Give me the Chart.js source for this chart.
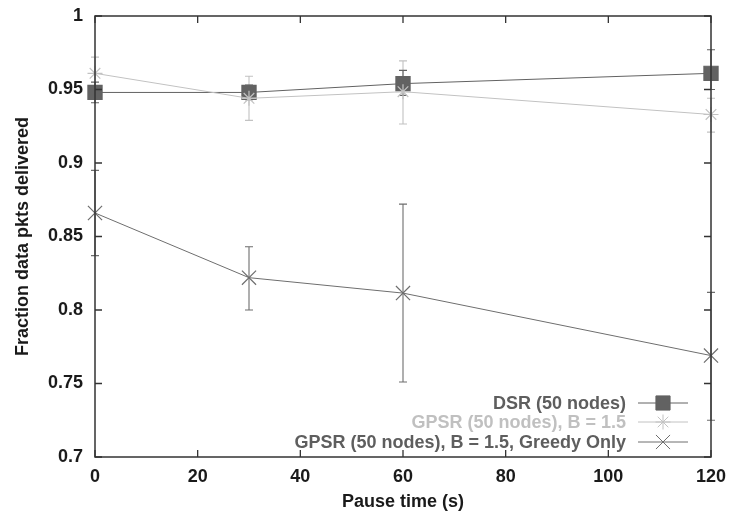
<!DOCTYPE html>
<html>
<head>
<meta charset="utf-8">
<script src="https://cdn.jsdelivr.net/npm/chart.js@4"></script>
<style>
  html, body { margin: 0; padding: 0; background: #fff; }
  #wrap { width: 729px; height: 514px; }
</style>
</head>
<body>
<div id="wrap"><canvas id="myChart" width="729" height="514"></canvas></div>
<script>
// DATA
const pauseTimes = [0, 30, 60, 120];
const seriesNames = ['DSR (50 nodes)', 'GPSR (50 nodes), B = 1.5', 'GPSR (50 nodes), B = 1.5, Greedy Only'];

const dsrMean = [0.948, 0.948, 0.954, 0.961];
const dsrLow  = [0.941, 0.943, 0.946, 0.950];
const dsrHigh = [0.955, 0.953, 0.963, 0.977];

const gpsrMean = [0.961, 0.944, 0.9485, 0.933];
const gpsrLow  = [0.950, 0.929, 0.9265, 0.921];
const gpsrHigh = [0.972, 0.959, 0.9695, 0.944];

const greedyMean = [0.866, 0.822, 0.8115, 0.769];
const greedyLow  = [0.837, 0.800, 0.751, 0.725];
const greedyHigh = [0.895, 0.843, 0.872, 0.812];

const xTicks = [0, 20, 40, 60, 80, 100, 120];
const yTicks = [0.7, 0.75, 0.8, 0.85, 0.9, 0.95, 1];

const FONT = 'Liberation Sans, Arial, Helvetica, sans-serif';

function pts(xs, ys) {
    return xs.map((x, i) => ({ x: x, y: ys[i] }));
}

const seriesStyle = [
    { color: '#626262', point: 'rect', radius: 10, low: dsrLow, high: dsrHigh },
    { color: '#c2c2c2', point: 'star', radius: 7.5, low: gpsrLow, high: gpsrHigh },
    { color: '#6e6e6e', point: 'crossRot', radius: 10, low: greedyLow, high: greedyHigh }
];
const means = [dsrMean, gpsrMean, greedyMean];

// ERROR BARS, BOX, TICKS AND LEGEND
const extras = {
    id: 'extras',
    beforeDatasetsDraw(chart) {
        const ctx = chart.ctx;
        const xs = chart.scales.x;
        const ys = chart.scales.y;
        ctx.save();
        ctx.lineWidth = 1.1;
        // light series first, dark on top
        [1, 0, 2].forEach(si => {
            const st = seriesStyle[si];
            ctx.strokeStyle = st.color;
            pauseTimes.forEach((t, i) => {
                const px = xs.getPixelForValue(t);
                const lo = ys.getPixelForValue(st.low[i]);
                const hi = ys.getPixelForValue(st.high[i]);
                ctx.beginPath();
                ctx.moveTo(px, lo); ctx.lineTo(px, hi);
                ctx.moveTo(px - 4, lo); ctx.lineTo(px + 4, lo);
                ctx.moveTo(px - 4, hi); ctx.lineTo(px + 4, hi);
                ctx.stroke();
            });
        });
        ctx.restore();
    },
    afterDraw(chart) {
        const ctx = chart.ctx;
        const a = chart.chartArea;
        const xs = chart.scales.x;
        const ys = chart.scales.y;
        ctx.save();
        ctx.strokeStyle = '#333';
        ctx.lineWidth = 1.5;
        ctx.strokeRect(a.left, a.top, a.right - a.left, a.bottom - a.top);
        ctx.lineWidth = 1.3;
        ctx.beginPath();
        xTicks.forEach(t => {
            const px = xs.getPixelForValue(t);
            ctx.moveTo(px, a.bottom); ctx.lineTo(px, a.bottom - 7);
            ctx.moveTo(px, a.top); ctx.lineTo(px, a.top + 7);
        });
        yTicks.forEach(t => {
            const py = ys.getPixelForValue(t);
            ctx.moveTo(a.left, py); ctx.lineTo(a.left + 7, py);
            ctx.moveTo(a.right, py); ctx.lineTo(a.right - 7, py);
        });
        ctx.stroke();

        // legend, bottom right inside plot
        ctx.font = 'bold 18px ' + FONT;
        ctx.textAlign = 'right';
        ctx.textBaseline = 'middle';
        const textRight = 626;
        const lineL = 638, lineR = 688, mx = 663;
        const rows = [403, 422, 442];
        seriesNames.forEach((name, i) => {
            const st = seriesStyle[i];
            const y = rows[i];
            ctx.fillStyle = i === 1 ? '#c0c0c0' : '#5e5e5e';
            ctx.fillText(name, textRight, y + 1);
            ctx.strokeStyle = st.color;
            ctx.lineWidth = 1;
            ctx.beginPath();
            ctx.moveTo(lineL, y); ctx.lineTo(lineR, y);
            ctx.stroke();
            ctx.fillStyle = st.color;
            Chart.helpers.drawPoint(ctx, {
                pointStyle: st.point, radius: st.radius, rotation: 0, borderWidth: 1.2
            }, mx, y);
        });
        ctx.restore();
    }
};

const datasets = [2, 1, 0].map(i => ({
    label: seriesNames[i],
    data: pts(pauseTimes, means[i]),
    borderColor: seriesStyle[i].color,
    backgroundColor: seriesStyle[i].color,
    borderWidth: 1,
    pointStyle: seriesStyle[i].point,
    pointRadius: seriesStyle[i].radius,
    pointBorderWidth: 1.2,
    pointBackgroundColor: seriesStyle[i].color,
    pointBorderColor: seriesStyle[i].color,
    tension: 0,
    fill: false,
    clip: false
}));

const ctx = document.getElementById('myChart').getContext('2d');
new Chart(ctx, {
    type: 'line',
    data: { datasets: datasets },
    plugins: [extras],
    options: {
        responsive: false,
        animation: false,
        events: [],
        layout: { padding: { top: 16, right: 18, left: 0, bottom: 0 } },
        plugins: { legend: { display: false }, tooltip: { enabled: false } },
        scales: {
            x: {
                type: 'linear',
                min: 0, max: 120,
                afterFit: s => { s.height = 57; s.paddingLeft = 0; s.paddingRight = 0; },
                afterBuildTicks: s => { s.ticks = xTicks.map(v => ({ value: v })); },
                grid: { display: false, drawTicks: false },
                border: { display: false },
                ticks: {
                    padding: 9,
                    color: '#1a1a1a',
                    font: { family: FONT, size: 18, weight: 'bold' },
                    maxRotation: 0
                },
                title: {
                    display: true,
                    text: 'Pause time (s)',
                    color: '#1a1a1a',
                    font: { family: FONT, size: 18, weight: 'bold' },
                    padding: { top: 0, bottom: 1 }
                }
            },
            y: {
                type: 'linear',
                min: 0.7, max: 1,
                afterFit: s => { s.width = 95; s.paddingTop = 0; s.paddingBottom = 0; },
                afterBuildTicks: s => { s.ticks = yTicks.map(v => ({ value: v })); },
                grid: { display: false, drawTicks: false },
                border: { display: false },
                ticks: {
                    padding: 12,
                    color: '#1a1a1a',
                    font: { family: FONT, size: 18, weight: 'bold' },
                    callback: v => String(+v.toFixed(2))
                },
                title: {
                    display: true,
                    text: 'Fraction data pkts delivered',
                    color: '#1a1a1a',
                    font: { family: FONT, size: 18, weight: 'bold' },
                    padding: { top: 12, bottom: 0 }
                }
            }
        }
    }
});
</script>
</body>
</html>
